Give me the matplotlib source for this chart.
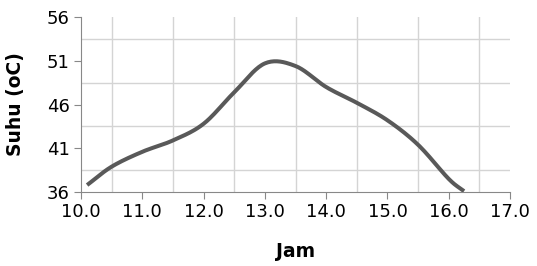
import matplotlib.pyplot as plt
import numpy as np

jam = [10.1, 10.5, 11.0, 11.5, 12.0, 12.5, 13.0, 13.5, 14.0, 14.5, 15.0, 15.5, 16.0, 16.25]
suhu = [36.8, 38.9, 40.6, 41.9, 43.8, 47.4, 50.7, 50.4, 48.0, 46.2, 44.2, 41.4, 37.5, 36.1]

x_ticks = [10, 11, 12, 13, 14, 15, 16, 17]
y_ticks = [36, 41, 46, 51, 56]


def smooth(xs, ys, n=20):
    # catmull-rom through the points, only for drawing
    xs = np.asarray(xs, float)
    ys = np.asarray(ys, float)
    px = np.concatenate([[2 * xs[0] - xs[1]], xs, [2 * xs[-1] - xs[-2]]])
    py = np.concatenate([[2 * ys[0] - ys[1]], ys, [2 * ys[-1] - ys[-2]]])
    ox, oy = [], []
    t = np.linspace(0, 1, n, endpoint=False)
    for i in range(1, len(px) - 2):
        for p, o in ((px, ox), (py, oy)):
            p0, p1, p2, p3 = p[i - 1], p[i], p[i + 1], p[i + 2]
            o.extend(0.5 * (2 * p1 + (-p0 + p2) * t + (2 * p0 - 5 * p1 + 4 * p2 - p3) * t ** 2
                            + (-p0 + 3 * p1 - 3 * p2 + p3) * t ** 3))
    ox.append(xs[-1])
    oy.append(ys[-1])
    return ox, oy


fig = plt.figure(figsize=(5.37, 2.66), dpi=100)
ax = fig.add_axes([0.1508, 0.278, 0.799, 0.658])

sx, sy = smooth(jam, suhu)
ax.plot(sx, sy, color="#595959", lw=2.9, solid_capstyle="butt", zorder=3)

ax.set_xlim(10, 17)
ax.set_ylim(36, 56)
ax.set_xticks(x_ticks)
ax.set_xticklabels(["%.1f" % v for v in x_ticks])
ax.set_yticks(y_ticks)
ax.set_xticks(np.arange(10.5, 17, 1), minor=True)
ax.set_yticks(np.arange(38.5, 56, 5), minor=True)
ax.grid(which="minor", color="#d4d4d4", lw=1)
ax.grid(which="major", visible=False)
ax.tick_params(which="minor", length=0)
ax.tick_params(which="major", length=5, color="#888888", labelsize=13, pad=3)
for s in ["top", "right"]:
    ax.spines[s].set_visible(False)
for s in ["left", "bottom"]:
    ax.spines[s].set_color("#888888")

ax.set_xlabel("Jam", fontsize=13.5, fontweight="bold", labelpad=15)
ax.set_ylabel("Suhu (oC)", fontsize=13.5, fontweight="bold", labelpad=16)

plt.savefig("out.png")
